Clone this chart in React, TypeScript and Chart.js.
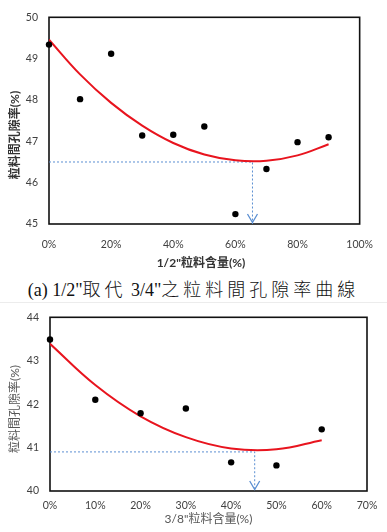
import React, { useEffect, useRef } from "react";
import { Chart, registerables } from "chart.js";

Chart.register(...registerables);

// ---- (a) 1/2" aggregate replacing 3/4" ----
const halfContent = [0, 10, 20, 30, 40, 50, 60, 70, 80, 90];
const halfVoid = [49.34, 48.02, 49.12, 47.14, 47.16, 47.36, 45.24, 46.33, 46.98, 47.1];
const halfTrendContent = [0, 10, 20, 30, 40, 50, 60, 70, 80, 90];
const halfTrendVoid = [49.46, 48.62, 47.93, 47.38, 46.96, 46.68, 46.54, 46.53, 46.66, 46.93];
const halfOptimumContent = 65.5;
const halfMinVoid = 46.5;
const halfXTicks = [0, 20, 40, 60, 80, 100];
const halfYTicks = [45, 46, 47, 48, 49, 50];

// ---- 3/8" aggregate ----
const eighthContent = [0, 10, 20, 30, 40, 50, 60];
const eighthVoid = [43.49, 42.1, 41.79, 41.9, 40.66, 40.59, 41.42];
const eighthTrendContent = [0, 10, 20, 30, 40, 50, 60];
const eighthTrendVoid = [43.39, 42.44, 41.72, 41.24, 40.98, 40.96, 41.17];
const eighthOptimumContent = 45.2;
const eighthMinVoid = 40.9;
const eighthXTicks = [0, 10, 20, 30, 40, 50, 60, 70];
const eighthYTicks = [40, 41, 42, 43, 44];

const SANS = "Lato, 'Noto Sans CJK TC', sans-serif";
const GUIDE = "#5b8fd2";
const TREND = "#e8141e";

type PanelProps = {
  xs: number[];
  ys: number[];
  trendXs: number[];
  trendYs: number[];
  optX: number;
  optY: number;
  xTicks: number[];
  yTicks: number[];
  xTitle: string;
  yTitle: string;
  width: number;
  height: number;
  area: { left: number; top: number; right: number; bottom: number };
  xTickPad: number;
  xTitleY: number;
  xTitleX?: number;
  yTitleX: number;
  yTitleY: number;
  titleFont: string;
  titleColor: string;
  top: number;
};

const panelDecor = {
  id: "panelDecor",
  beforeDatasetsDraw(chart: any) {
    const { ctx, chartArea: a } = chart;
    ctx.save();
    ctx.strokeStyle = "#111";
    ctx.lineWidth = 1.6;
    ctx.strokeRect(a.left, a.top, a.right - a.left, a.bottom - a.top);
    ctx.restore();
  },
  afterDatasetsDraw(chart: any, _args: any, o: any) {
    const { ctx, scales } = chart;
    const px = scales.x.getPixelForValue(o.optX);
    const py = scales.y.getPixelForValue(scales.y.min);
    ctx.save();
    ctx.strokeStyle = GUIDE;
    ctx.lineWidth = 1.3;
    ctx.beginPath();
    ctx.moveTo(px - 5, py - 10);
    ctx.lineTo(px, py - 1.5);
    ctx.lineTo(px + 5, py - 10);
    ctx.stroke();
    ctx.restore();
  },
  afterDraw(chart: any, _args: any, o: any) {
    const { ctx, chartArea: a } = chart;
    ctx.save();
    ctx.fillStyle = o.titleColor;
    ctx.font = o.titleFont;
    ctx.textAlign = "center";
    ctx.textBaseline = "middle";
    const cx = o.xTitleX ?? (a.left + a.right) / 2;
    ctx.fillText(o.xTitle, cx, o.xTitleY);
    ctx.translate(o.yTitleX, o.yTitleY);
    ctx.rotate(-Math.PI / 2);
    ctx.fillText(o.yTitle, 0, 0);
    ctx.restore();
  },
};

function Panel(p: PanelProps) {
  const ref = useRef<HTMLCanvasElement | null>(null);

  useEffect(() => {
    if (!ref.current) return;
    const tickFont = { family: SANS, size: 10.5 };
    const chart = new Chart(ref.current, {
      type: "scatter",
      data: {
        datasets: [
          {
            type: "line",
            data: [
              { x: p.xTicks[0], y: p.optY },
              { x: p.optX, y: p.optY },
              { x: p.optX, y: p.yTicks[0] },
            ],
            borderColor: GUIDE,
            borderWidth: 1,
            borderDash: [2, 2],
            pointRadius: 0,
            tension: 0,
            order: 3,
          },
          {
            type: "line",
            data: p.trendXs.map((x, i) => ({ x, y: p.trendYs[i] })),
            borderColor: TREND,
            borderWidth: 2,
            pointRadius: 0,
            tension: 0.4,
            order: 2,
          },
          {
            type: "scatter",
            data: p.xs.map((x, i) => ({ x, y: p.ys[i] })),
            backgroundColor: "#000",
            borderWidth: 0,
            pointRadius: 3.2,
            clip: false as any,
            order: 1,
          },
        ],
      },
      options: {
        responsive: false,
        animation: false,
        devicePixelRatio: 1,
        layout: {
          padding: {
            left: 0,
            top: p.area.top,
            right: p.width - p.area.right,
            bottom: 0,
          },
        },
        plugins: {
          legend: { display: false },
          tooltip: { enabled: false },
          panelDecor: {
            optX: p.optX,
            xTitle: p.xTitle,
            yTitle: p.yTitle,
            xTitleY: p.xTitleY,
            xTitleX: p.xTitleX,
            yTitleX: p.yTitleX,
            yTitleY: p.yTitleY,
            titleFont: p.titleFont,
            titleColor: p.titleColor,
          },
        } as any,
        scales: {
          x: {
            type: "linear",
            min: p.xTicks[0],
            max: p.xTicks[p.xTicks.length - 1],
            grid: { display: false, drawTicks: false },
            border: { display: false },
            ticks: {
              stepSize: p.xTicks[1] - p.xTicks[0],
              font: tickFont,
              color: "#404040",
              padding: p.xTickPad,
              maxRotation: 0,
              callback: (v: any) => `${v}%`,
            },
            afterFit: (s: any) => {
              s.height = p.height - p.area.bottom;
            },
          },
          y: {
            min: p.yTicks[0],
            max: p.yTicks[p.yTicks.length - 1],
            grid: { display: false, drawTicks: false },
            border: { display: false },
            ticks: {
              stepSize: 1,
              font: tickFont,
              color: "#404040",
              padding: 11,
            },
            afterFit: (s: any) => {
              s.width = p.area.left;
            },
          },
        },
      },
      plugins: [panelDecor],
    });
    return () => chart.destroy();
  }, []);

  return (
    <canvas
      ref={ref}
      width={p.width}
      height={p.height}
      style={{ position: "absolute", left: 0, top: p.top, width: p.width, height: p.height }}
    />
  );
}

export default function App() {
  return (
    <div style={{ position: "absolute", left: 0, top: 0, width: 387, height: 532, background: "#fff", overflow: "hidden" }}>
      <Panel
        top={0}
        xs={halfContent}
        ys={halfVoid}
        trendXs={halfTrendContent}
        trendYs={halfTrendVoid}
        optX={halfOptimumContent}
        optY={halfMinVoid}
        xTicks={halfXTicks}
        yTicks={halfYTicks}
        xTitle={'1/2"粒料含量(%)'}
        yTitle="粒料間孔隙率(%)"
        width={387}
        height={275}
        area={{ left: 49, top: 8, right: 363, bottom: 224 }}
        xTickPad={14}
        xTitleY={263}
        xTitleX={201}
        yTitleX={15}
        yTitleY={135}
        titleFont={`bold 12px ${SANS}`}
        titleColor="#333"
      />
      <div
        style={{
          position: "absolute",
          left: 0,
          top: 279,
          width: 387,
          textAlign: "center",
          fontSize: 18,
          lineHeight: "22px",
          color: "#111",
          fontFamily: "'Liberation Serif', 'Noto Sans CJK TC', serif",
          whiteSpace: "nowrap",
        }}
      >
        <span>(a) 1/2"</span>
        <span style={{ letterSpacing: 4, fontWeight: 300 }}>取代</span>
        <span> 3/4"</span>
        <span style={{ letterSpacing: 4, fontWeight: 300 }}>之粒料間孔隙率曲線</span>
      </div>
      <div style={{ position: "absolute", left: 0, top: 302, width: 387, height: 1, background: "#ececec" }} />
      <Panel
        top={300}
        xs={eighthContent}
        ys={eighthVoid}
        trendXs={eighthTrendContent}
        trendYs={eighthTrendVoid}
        optX={eighthOptimumContent}
        optY={eighthMinVoid}
        xTicks={eighthXTicks}
        yTicks={eighthYTicks}
        xTitle={'3/8"粒料含量(%)'}
        yTitle="粒料間孔隙率(%)"
        width={387}
        height={232}
        area={{ left: 50, top: 12, right: 367, bottom: 191 }}
        xTickPad={8}
        xTitleY={219}
        yTitleX={15}
        yTitleY={109}
        titleFont={`12px ${SANS}`}
        titleColor="#555"
      />
    </div>
  );
}
